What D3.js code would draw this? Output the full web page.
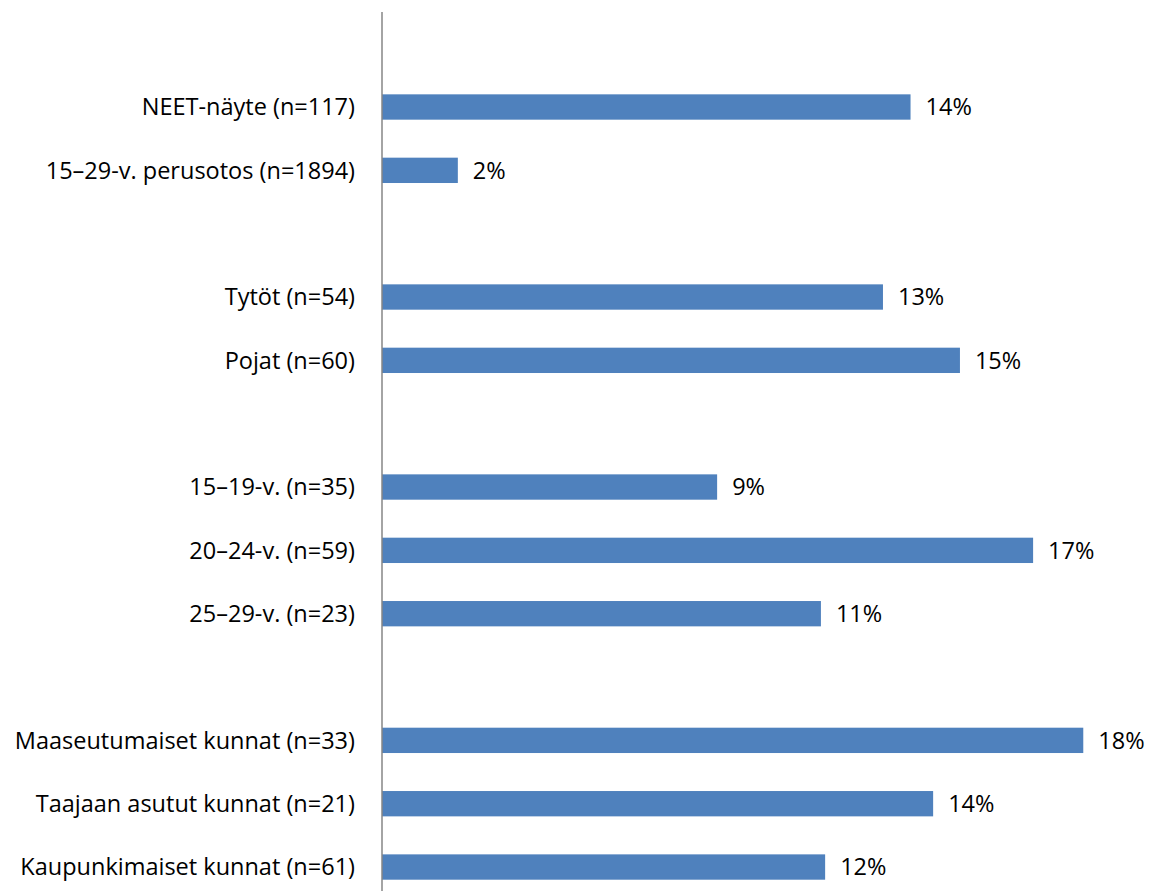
<!DOCTYPE html>
<html><head><meta charset="utf-8">
<script src="https://cdn.jsdelivr.net/npm/d3@7"></script>
<style>html,body{margin:0;padding:0;background:#fff;overflow:hidden}</style>
</head><body>
<svg id="c" width="1154" height="891"></svg>
<script>
// Data (null = blank spacer row)
const categories = [null, "NEET-näyte (n=117)", "15–29-v. perusotos (n=1894)", null,
  "Tytöt (n=54)", "Pojat (n=60)", null,
  "15–19-v. (n=35)", "20–24-v. (n=59)", "25–29-v. (n=23)", null,
  "Maaseutumaiset kunnat (n=33)", "Taajaan asutut kunnat (n=21)", "Kaupunkimaiset kunnat (n=61)"];
const values = [null, 0.138, 0.0198, null,
  0.1308, 0.1509, null,
  0.0875, 0.170, 0.1146, null,
  0.1831, 0.1439, 0.1157];
const valueLabels = [null, "14%", "2%", null, "13%", "15%", null, "9%", "17%", "11%", null, "18%", "14%", "12%"];

const svg = d3.select("#c");
const axisX = 382;
const x = d3.scaleLinear().domain([0, 0.2]).range([axisX, axisX + 766]);
const y = d3.scaleBand().domain(d3.range(categories.length)).range([12, 898.7])
  .paddingInner(0.6).paddingOuter(0.3);

const rows = d3.range(categories.length).filter(i => categories[i] !== null);
const font = "'Open Sans', sans-serif";

svg.selectAll("rect.bar").data(rows).join("rect")
  .attr("class", "bar")
  .attr("x", x(0))
  .attr("y", i => y(i))
  .attr("width", i => x(values[i]) - x(0))
  .attr("height", y.bandwidth())
  .attr("fill", "#4f81bd");

svg.selectAll("text.cat").data(rows).join("text")
  .attr("class", "cat")
  .attr("x", axisX - 27)
  .attr("y", i => y(i) + y.bandwidth() / 2)
  .attr("dy", "0.35em")
  .attr("text-anchor", "end")
  .attr("font-family", font)
  .attr("font-size", 23.5)
  .attr("fill", "#000")
  .text(i => categories[i]);

svg.selectAll("text.val").data(rows).join("text")
  .attr("class", "val")
  .attr("x", i => x(values[i]) + 15)
  .attr("y", i => y(i) + y.bandwidth() / 2)
  .attr("dy", "0.35em")
  .attr("font-family", font)
  .attr("font-size", 23.5)
  .attr("fill", "#000")
  .text(i => valueLabels[i]);

svg.append("line")
  .attr("x1", axisX).attr("x2", axisX)
  .attr("y1", 12).attr("y2", 891)
  .attr("stroke", "#868686").attr("stroke-width", 1.5);
</script>
</body></html>
